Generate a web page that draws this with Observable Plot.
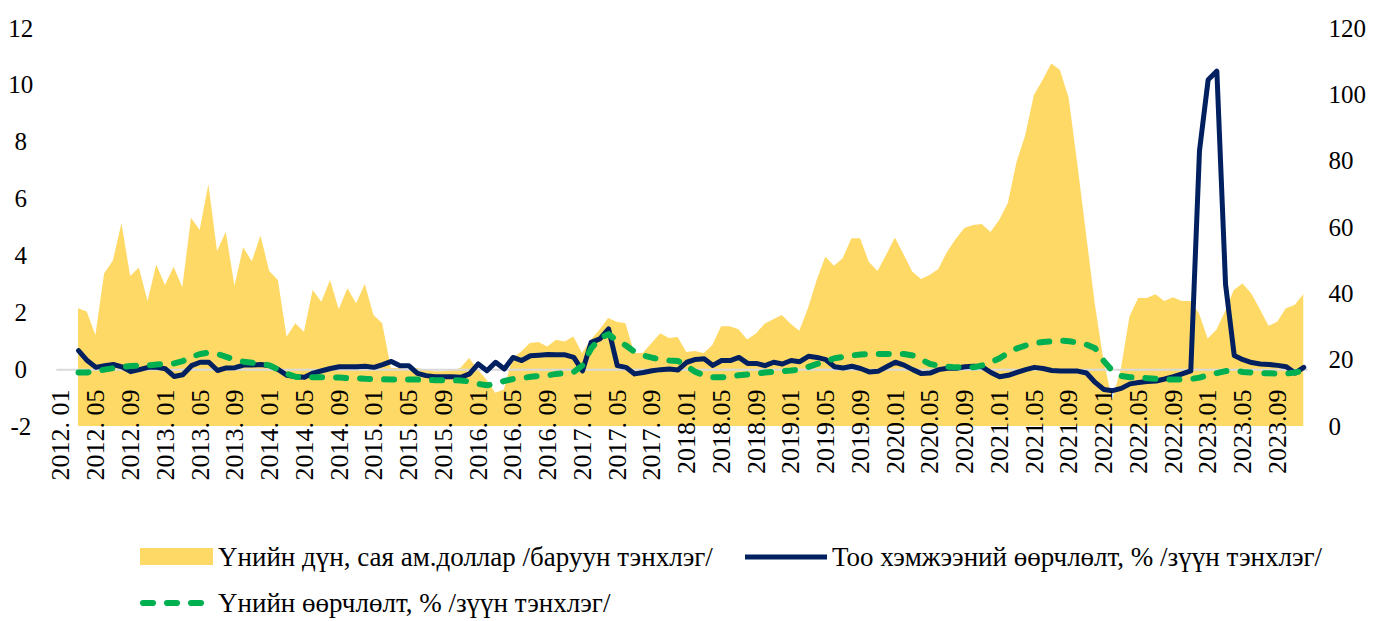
<!DOCTYPE html>
<html><head><meta charset="utf-8">
<script src="https://cdn.jsdelivr.net/npm/d3@7"></script>
<script src="https://cdn.jsdelivr.net/npm/@observablehq/plot@0.6"></script>
<style>
body{margin:0;background:#fff;font-family:'Liberation Serif','Tinos','Times New Roman','Times','Noto Serif','DejaVu Serif',serif;}
#chart{position:relative;width:1373px;height:621px;overflow:hidden;}
#plot{position:absolute;left:0;top:0;}
.lg{position:absolute;font-size:27px;line-height:30px;color:#000;white-space:nowrap;}
.sw{position:absolute;}
</style></head><body>
<div id="chart"><div id="plot"></div></div>
<script>
// Tick labels (every 4th month from 2012.01)
const tickLabels = [
 "2012. 01","2012. 05","2012. 09","2013. 01","2013. 05","2013. 09",
 "2014. 01","2014. 05","2014. 09","2015. 01","2015. 05","2015. 09",
 "2016. 01","2016. 05","2016. 09","2017. 01","2017. 05","2017. 09",
 "2018.01","2018.05","2018.09","2019.01","2019.05","2019.09",
 "2020.01","2020.05","2020.09","2021.01","2021.05","2021.09",
 "2022.01","2022.05","2022.09","2023.01","2023.05","2023.09"
];
// Data begins at month index 2 (2012.03) and ends at 143 (2023.12)
const firstMonthIndex = 2;
// Үнийн дүн, сая ам.доллар (right axis)
const valueUSD = [
 35.5,34.5,27.4,46,49.8,61.1,45.2,47.8,37.7,48.7,
 42.5,48,41.8,62.8,59.1,72.9,52.8,58.6,42.3,53.9,
 49.7,57.4,46.7,44,26.9,31,28.4,41,37.5,44,
 35.2,41.5,37,42.8,33.5,31,17.5,17.5,17,17.5,
 17,16.5,16.5,16.8,17.5,20.5,17,14,10,11,
 20.5,22.5,25,25.3,24,26,25.5,27,22,26,
 29,32.6,31.4,31,22,22,25,28,26.5,26.8,
 22.3,22.6,22,24.4,30.1,30.1,29.2,26.1,27.9,30.8,
 32.2,33.5,30.8,28.7,35.5,44,51,48.3,50.6,56.6,
 56.6,49.5,46.7,51.6,56.8,51.8,46.6,44.3,45.5,47.3,
 52.5,56.4,59.7,60.6,60.9,58.5,62.1,67.2,79.6,87.7,
 99.8,104.3,109.3,107.3,99,79,58,37,20,8,
 17,33,38.6,38.6,39.7,37.7,38.8,37.7,37.7,34,
 26.4,29,34.5,41,43,40,35.3,30.2,31.4,35.5,
 36.5,39.7
];
// Тоо хэмжээний өөрчлөлт, % (left axis)
const volumeChange = [
 0.67,0.32,0.08,0.14,0.18,0.1,-0.07,0.0,0.08,0.08,
 0.03,-0.24,-0.18,0.14,0.26,0.26,-0.03,0.06,0.07,0.16,
 0.16,0.18,0.14,0.0,-0.2,-0.25,-0.27,-0.12,-0.04,0.04,
 0.1,0.1,0.1,0.12,0.08,0.18,0.29,0.14,0.14,-0.13,
 -0.21,-0.25,-0.25,-0.25,-0.27,-0.15,0.2,-0.04,0.26,0.02,
 0.43,0.32,0.49,0.51,0.53,0.52,0.52,0.43,-0.04,0.96,
 1.08,1.43,0.14,0.08,-0.15,-0.1,-0.04,0.0,0.02,-0.01,
 0.26,0.36,0.38,0.15,0.32,0.32,0.43,0.22,0.22,0.14,
 0.26,0.2,0.32,0.28,0.47,0.43,0.35,0.1,0.06,0.12,
 0.04,-0.08,-0.06,0.1,0.26,0.16,0.0,-0.14,-0.12,0.0,
 0.05,0.05,0.1,0.12,0.1,-0.1,-0.25,-0.2,-0.1,0.0,
 0.08,0.04,-0.03,-0.05,-0.05,-0.05,-0.12,-0.45,-0.7,-0.74,
 -0.66,-0.5,-0.45,-0.42,-0.4,-0.33,-0.25,-0.15,-0.04,7.7,
 10.2,10.5,3.0,0.5,0.35,0.25,0.2,0.18,0.15,0.1,
 -0.12,0.08
];
// Үнийн өөрчлөлт, % (left axis)
const priceChange = [
 -0.1,-0.1,-0.05,0.0,0.05,0.1,0.13,0.14,0.15,0.18,
 0.2,0.22,0.3,0.45,0.55,0.6,0.55,0.45,0.35,0.28,
 0.24,0.2,0.15,0.0,-0.15,-0.25,-0.27,-0.27,-0.27,-0.27,
 -0.28,-0.3,-0.3,-0.32,-0.33,-0.34,-0.35,-0.35,-0.35,-0.35,
 -0.36,-0.37,-0.37,-0.37,-0.38,-0.42,-0.5,-0.55,-0.5,-0.4,
 -0.33,-0.3,-0.25,-0.22,-0.2,-0.15,-0.12,-0.08,0.15,0.75,
 1.1,1.25,1.0,0.85,0.62,0.5,0.42,0.36,0.32,0.3,
 0.12,-0.08,-0.2,-0.27,-0.27,-0.24,-0.2,-0.17,-0.14,-0.1,
 -0.08,-0.05,-0.03,0.0,0.1,0.2,0.3,0.4,0.45,0.5,
 0.53,0.55,0.55,0.55,0.55,0.55,0.5,0.35,0.2,0.14,
 0.1,0.08,0.08,0.08,0.15,0.26,0.4,0.6,0.75,0.85,
 0.93,0.97,1.0,1.02,1.0,0.95,0.88,0.75,0.3,-0.05,
 -0.22,-0.27,-0.28,-0.3,-0.32,-0.34,-0.35,-0.35,-0.33,-0.28,
 -0.2,-0.12,-0.05,-0.04,-0.08,-0.1,-0.12,-0.13,-0.14,-0.14,
 -0.1,-0.04
];
const leftTicks = [-2,0,2,4,6,8,10,12];
const rightTicks = [0,20,40,60,80,100,120];
const legendLabels = ["Үнийн дүн, сая ам.доллар /баруун тэнхлэг/","Тоо хэмжээний өөрчлөлт, % /зүүн тэнхлэг/","Үнийн өөрчлөлт, % /зүүн тэнхлэг/"];
const colors = {area:"#FFD966", volume:"#002060", price:"#00B050", zero:"#D9D9D9"};

const data = valueUSD.map((v,k)=>({i:k+firstMonthIndex, usd:v, vol:volumeChange[k], price:priceChange[k]}));
// right axis (0..120) mapped onto left axis (-2..12)
const toLeft = r => -2 + r*14/120;
const fromLeft = l => Math.round((l+2)*120/14);
const tickPos = tickLabels.map((_,j)=>4*j);
const tickMap = new Map(tickPos.map((p,j)=>[p,tickLabels[j]]));

const W=1373, H=530;
const font = "'Liberation Serif','Tinos','Times New Roman','Times','Noto Serif','DejaVu Serif',serif";
const plot = Plot.plot({
  width:W, height:H,
  marginTop:28, marginBottom:H-426, marginLeft:56.3, marginRight:W-1307.6,
  x:{type:"linear", domain:[-0.5,143.5]},
  y:{domain:[-2,12]},
  style:{fontFamily:font, fontSize:"25px", color:"#000", background:"#fff", overflow:"visible"},
  marks:[
    Plot.areaY(data,{x:"i", y1:-2, y2:d=>toLeft(d.usd), fill:colors.area}),
    Plot.ruleY([0],{stroke:colors.zero, strokeWidth:2}),
    Plot.lineY(data,{x:"i", y:"vol", stroke:colors.volume, strokeWidth:5, strokeLinejoin:"round"}),
    Plot.lineY(data,{x:"i", y:"price", stroke:colors.price, strokeWidth:6, strokeDasharray:"10,14", strokeLinecap:"round"}),
    Plot.axisY({anchor:"left", ticks:leftTicks, tickSize:0, tickPadding:36, textAnchor:"middle", tickFormat:d=>String(d), label:null}),
    Plot.axisY({anchor:"right", ticks:rightTicks.map(toLeft), tickSize:0, tickPadding:20.5, textAnchor:"start", tickFormat:d=>String(fromLeft(d)), label:null}),
    Plot.axisX({ticks:tickPos, tickFormat:d=>tickMap.get(d), tickRotate:-90, tickSize:0, tickPadding:-37, textAnchor:"end", lineAnchor:"middle", fontSize:26, label:null})
  ]
});
plot.style.fontFamily = font;
document.getElementById("plot").appendChild(plot);

// Legend (HTML, below the SVG)
const chart = document.getElementById("chart");
function add(html){ const d=document.createElement("div"); d.innerHTML=html; chart.appendChild(d.firstElementChild); }
add(`<div class="sw" style="left:140px;top:548px;width:73px;height:17px;background:${colors.area}"></div>`);
add(`<div class="lg" style="left:218px;top:542px">${legendLabels[0]}</div>`);
add(`<svg class="sw" style="left:745px;top:552px" width="82" height="10"><line x1="0" y1="5" x2="82" y2="5" stroke="${colors.volume}" stroke-width="5"/></svg>`);
add(`<div class="lg" style="left:832px;top:542px">${legendLabels[1]}</div>`);
add(`<svg class="sw" style="left:138px;top:598px" width="76" height="10"><line x1="5" y1="5" x2="71" y2="5" stroke="${colors.price}" stroke-width="6" stroke-dasharray="10,14" stroke-linecap="round"/></svg>`);
add(`<div class="lg" style="left:218px;top:588px">${legendLabels[2]}</div>`);
</script>
</body></html>
